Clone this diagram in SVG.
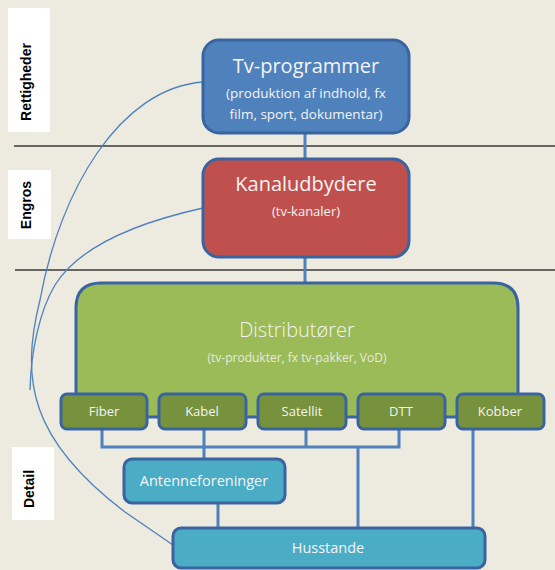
<svg xmlns="http://www.w3.org/2000/svg" width="555" height="570" viewBox="0 0 555 570">
  <style>
    .tier { fill: #ffffff; }
    .tier-label { font-family: "Liberation Sans", Arial, sans-serif; font-weight: bold; font-size: 14px; fill: #000000; text-anchor: middle; }
    .divider { stroke: #3a3a3a; stroke-width: 1.5; }
    .box { stroke: #3a64a0; stroke-width: 3; }
    .title { font-family: "Open Sans", "Noto Sans", sans-serif; fill: #f4f4f4; text-anchor: middle; }
    .link { fill: none; stroke: #4f81bd; stroke-width: 3; }
    .curve { fill: none; stroke: #4f81bd; stroke-width: 1.3; }
  </style>

  <!-- background -->
  <rect x="0" y="0" width="555" height="570" fill="#edeae0"/>

  <!-- tier labels -->
  <g id="tier-rettigheder">
    <rect class="tier" x="8" y="8" width="42" height="124"/>
    <text class="tier-label" x="31" y="82" transform="rotate(-90 31 82)">Rettigheder</text>
  </g>
  <g id="tier-engros">
    <rect class="tier" x="8" y="170" width="43" height="69"/>
    <text class="tier-label" x="31" y="205" transform="rotate(-90 31 205)">Engros</text>
  </g>
  <g id="tier-detail">
    <rect class="tier" x="12" y="447" width="42" height="73"/>
    <text class="tier-label" x="34" y="489" transform="rotate(-90 34 489)">Detail</text>
  </g>

  <!-- tier dividers -->
  <line class="divider" x1="14" y1="146" x2="555" y2="146"/>
  <line class="divider" x1="15" y1="270" x2="555" y2="270"/>

  <!-- connectors -->
  <g id="connectors">
    <line class="link" x1="305" y1="133" x2="305" y2="159"/>
    <line class="link" x1="305" y1="257" x2="305" y2="283"/>
    <polyline class="link" points="102,429 102,447 399,447 399,429"/>
    <line class="link" x1="204" y1="429" x2="204" y2="459"/>
    <line class="link" x1="306" y1="429" x2="306" y2="447"/>
    <line class="link" x1="358" y1="447" x2="358" y2="528"/>
    <line class="link" x1="473" y1="429" x2="473" y2="528"/>
    <line class="link" x1="218" y1="503" x2="218" y2="528"/>
    <path class="curve" d="M203,82 C120,88 60,190 40,300 C20,380 30,440 125,512 L173,545"/>
    <path class="curve" d="M203,208 C140,222 80,245 55,285 C40,310 31,350 30,390"/>
  </g>

  <!-- rights holders -->
  <g id="tv-programmer">
    <rect class="box" x="203" y="40" width="206" height="93" rx="16" fill="#4f81bd"/>
    <text class="title" x="306" y="73" font-size="20">Tv-programmer</text>
    <text class="title" x="306" y="98" font-size="13.5">(produktion af indhold, fx</text>
    <text class="title" x="306" y="119" font-size="13.5">film, sport, dokumentar)</text>
  </g>

  <!-- wholesale -->
  <g id="kanaludbydere">
    <rect class="box" x="203" y="159" width="206" height="98" rx="16" fill="#c0504d"/>
    <text class="title" x="306" y="191" font-size="20">Kanaludbydere</text>
    <text class="title" x="306" y="216" font-size="13">(tv-kanaler)</text>
  </g>

  <!-- distributors -->
  <g id="distributorer">
    <path class="box" d="M76,417 L76,308 Q76,283 101,283 L493,283 Q518,283 518,308 L518,417 Z" fill="#9bbb59"/>
    <text class="title" x="297" y="337" font-size="20" font-weight="300">Distributører</text>
    <text class="title" x="297" y="362" font-size="12" fill="#dfe8cf" opacity="0.85">(tv-produkter, fx tv-pakker, VoD)</text>
  </g>

  <g id="fiber">
    <rect class="box" x="61" y="394" width="86" height="35" rx="6" fill="#76923c"/>
    <text class="title" x="104" y="416" font-size="13">Fiber</text>
  </g>
  <g id="kabel">
    <rect class="box" x="159" y="394" width="87" height="35" rx="6" fill="#76923c"/>
    <text class="title" x="202" y="416" font-size="13">Kabel</text>
  </g>
  <g id="satellit">
    <rect class="box" x="258" y="394" width="88" height="35" rx="6" fill="#76923c"/>
    <text class="title" x="302" y="416" font-size="13">Satellit</text>
  </g>
  <g id="dtt">
    <rect class="box" x="358" y="394" width="87" height="35" rx="6" fill="#76923c"/>
    <text class="title" x="401" y="416" font-size="13">DTT</text>
  </g>
  <g id="kobber">
    <rect class="box" x="457" y="394" width="87" height="35" rx="6" fill="#76923c"/>
    <text class="title" x="500" y="416" font-size="13">Kobber</text>
  </g>

  <!-- retail -->
  <g id="antenneforeninger">
    <rect class="box" x="124" y="459" width="161" height="44" rx="8" fill="#4bacc6"/>
    <text class="title" x="204" y="486" font-size="14.5">Antenneforeninger</text>
  </g>
  <g id="husstande">
    <rect class="box" x="173" y="528" width="312" height="40" rx="8" fill="#4bacc6"/>
    <text class="title" x="328" y="553" font-size="14.5">Husstande</text>
  </g>
</svg>
